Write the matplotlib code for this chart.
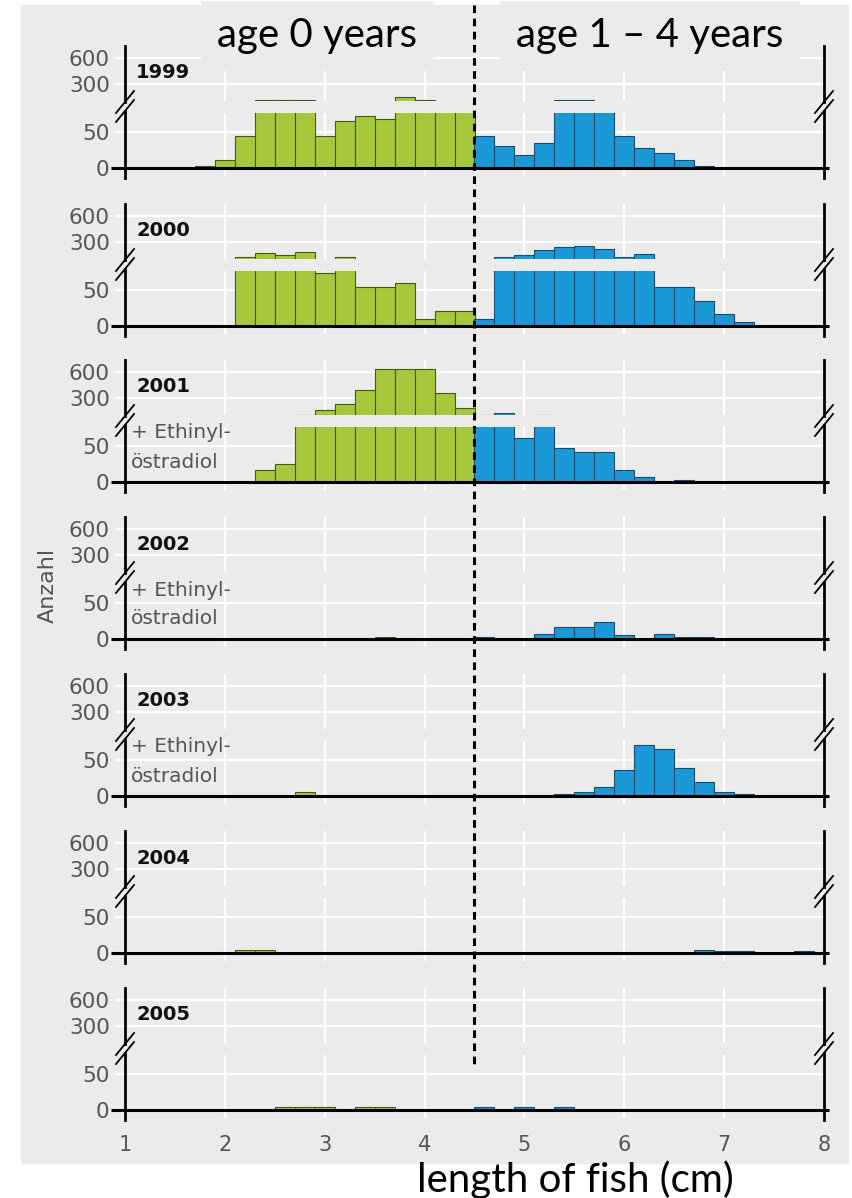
import matplotlib
matplotlib.use("Agg")
import matplotlib.pyplot as plt
import matplotlib.transforms as mtransforms
from matplotlib.lines import Line2D
from matplotlib.patches import Rectangle

# length classes (bin centres, cm) and counts per year
lengths = [1.8, 2.0, 2.2, 2.4, 2.6, 2.8, 3.0, 3.2, 3.4, 3.6, 3.8, 4.0, 4.2, 4.4,
           4.6, 4.8, 5.0, 5.2, 5.4, 5.6, 5.8, 6.0, 6.2, 6.4, 6.6, 6.8, 7.0, 7.2,
           7.4, 7.6, 7.8]
years = ["1999", "2000", "2001", "2002", "2003", "2004", "2005"]
n_1999 = [3, 11, 44, 110, 110, 110, 44, 65, 72, 68, 150, 110, 90, 90,
          44, 31, 18, 35, 110, 110, 90, 44, 27, 21, 11, 3, 0, 0, 0, 0, 0]
n_2000 = [0, 0, 124, 170, 150, 188, 73, 124, 54, 54, 60, 10, 21, 21,
          10, 124, 150, 211, 239, 258, 219, 124, 162, 54, 54, 35, 17, 5, 0, 0, 0]
n_2001 = [0, 0, 0, 17, 25, 108, 162, 231, 392, 635, 635, 635, 361, 185,
          108, 127, 61, 108, 47, 41, 41, 16, 7, 0, 3, 0, 0, 0, 0, 0, 0]
n_2002 = [0, 0, 0, 0, 0, 0, 0, 0, 0, 3, 0, 0, 0, 0,
          3, 0, 0, 7, 17, 17, 23, 5, 0, 7, 3, 3, 0, 0, 0, 0, 0]
n_2003 = [0, 0, 0, 0, 0, 5, 0, 0, 0, 0, 0, 0, 0, 0,
          0, 0, 0, 0, 3, 5, 13, 36, 71, 65, 39, 20, 5, 3, 0, 0, 0]
n_2004 = [0, 0, 4, 4, 0, 0, 0, 0, 0, 0, 0, 0, 0, 0,
          0, 0, 0, 0, 0, 0, 0, 0, 0, 0, 0, 4, 3, 3, 0, 0, 3]
n_2005 = [0, 0, 0, 0, 4, 4, 4, 0, 4, 4, 0, 0, 0, 0,
          4, 0, 4, 0, 4, 0, 0, 0, 0, 0, 0, 0, 0, 0, 0, 0, 0]
counts = [n_1999, n_2000, n_2001, n_2002, n_2003, n_2004, n_2005]
ethinyl_years = ["2001", "2002", "2003"]
age_split = 4.5

bg = "#ebebeb"
green, green_edge = "#a6c83c", "#3f5a1c"
blue, blue_edge = "#1b98d6", "#1c4b6e"
grey_txt = "#555555"

plt.rcParams["font.family"] = "DejaVu Sans"

W, H = 853, 1198
fig = plt.figure(figsize=(W / 100, H / 100), dpi=100)
fig.patch.set_facecolor("white")


def fx(px):
    return px / W


def fy(py):
    return 1 - py / H


fig.add_artist(Rectangle((fx(21), fy(1163)), fx(848) - fx(21), fy(5) - fy(1163),
                         transform=fig.transFigure, color=bg, zorder=-10))

X0, X1 = 125, 824
zero_px = [168, 326, 482, 639, 796, 953, 1110]

bar_col = [green if l < age_split else blue for l in lengths]
bar_edge = [green_edge if l < age_split else blue_edge for l in lengths]

for i, (year, vals) in enumerate(zip(years, counts)):
    z = zero_px[i]
    lo = fig.add_axes([fx(X0), fy(z), fx(X1) - fx(X0), 55 / H])
    hi = fig.add_axes([fx(X0), fy(z - 67), fx(X1) - fx(X0), 55 / H])
    for ax in (lo, hi):
        ax.set_facecolor("none")
        for s in ax.spines.values():
            s.set_visible(False)
        ax.set_xlim(1, 8)
        ax.set_axisbelow(True)
        ax.bar(lengths, vals, width=0.2, color=bar_col, edgecolor=bar_edge,
               linewidth=0.8, zorder=2)
        ax.grid(True, color="white", lw=1.6)
        ax.set_xticks([1, 2, 3, 4, 5, 6, 7, 8])
        ax.tick_params(axis="y", color="white", width=1.6, length=7,
                       labelcolor=grey_txt, labelsize=15.5, pad=4)
    hi.set_ylim(104, 738)
    hi.set_yticks([300, 600])
    hi.tick_params(axis="x", length=0, labelbottom=False)
    lo.set_ylim(0, 76)
    lo.set_yticks([0, 50])
    last = i == len(years) - 1
    lo.tick_params(axis="x", color="white", width=1.6, length=6,
                   labelbottom=last, labelcolor=grey_txt, labelsize=15, pad=12)
    lo.plot([0.86, 8.05], [0, 0], color="black", lw=2.2, clip_on=False,
            zorder=5, solid_capstyle="butt")

    # axis lines with break marks
    for xs in (X0, X1):
        fig.add_artist(Line2D([fx(xs)] * 2, [fy(z - 122), fy(z - 66)],
                              color="black", lw=2, zorder=10))
        fig.add_artist(Line2D([fx(xs)] * 2, [fy(z - 57), fy(z + 10)],
                              color="black", lw=2, zorder=10))
        for yc in (z - 66, z - 57):
            fig.add_artist(Line2D([fx(xs - 9), fx(xs + 9)], [fy(yc + 11), fy(yc - 11)],
                                  color="black", lw=1.3, zorder=10))

    fig.text(fx(136), fy(z - 95), year, fontweight="bold", fontsize=14,
             ha="left", va="center", color="#111111")
    if year in ethinyl_years:
        fig.text(fx(131), fy(z - 49), "+ Ethinyl-", fontsize=14.5, color=grey_txt,
                 ha="left", va="center")
        fig.text(fx(131), fy(z - 20), "östradiol", fontsize=14.5, color=grey_txt,
                 ha="left", va="center")

# dashed separator between age classes
trans = mtransforms.blended_transform_factory(lo.transData, fig.transFigure)
fig.add_artist(Line2D([age_split, age_split], [fy(5), fy(1065)], transform=trans,
                      color="black", lw=2.2, ls=(0, (2.5, 1.8)), zorder=10))

fig.text(fx(48), fy(585), "Anzahl", rotation=90, ha="center", va="center",
         color=grey_txt, fontsize=16)

box = dict(boxstyle="square,pad=0.4", fc=bg, ec="none")
fig.text(fx(317), fy(36), "age 0 years", family="Lato", fontsize=29,
         ha="center", va="center", bbox=box)
fig.text(fx(650), fy(36), "age 1 – 4 years", family="Lato", fontsize=29,
         ha="center", va="center", bbox=box)
fig.text(fx(575), fy(1180), "length of fish (cm)", family="Lato", fontsize=29,
         ha="center", va="center")

fig.savefig("out.png", dpi=100)
